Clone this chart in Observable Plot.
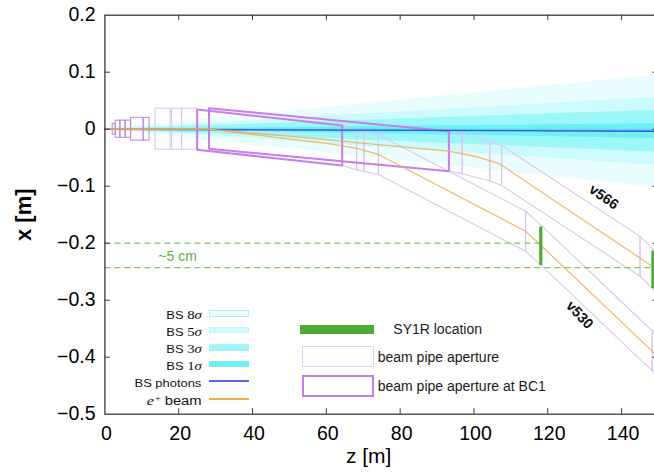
<!DOCTYPE html>
<html>
<head>
<meta charset="utf-8">
<script src="https://cdn.jsdelivr.net/npm/d3@7"></script>
<script src="https://cdn.jsdelivr.net/npm/@observablehq/plot@0.6"></script>
<style>
  html, body { margin: 0; padding: 0; background: #fff; overflow: hidden; }
  #wrap { position: relative; width: 654px; height: 474px; overflow: hidden; }
  #wrap svg { position: absolute; left: 0; top: 0; max-width: none !important; }
  .leg { position: absolute; white-space: nowrap; line-height: 1; color: #111; }
  .sans { font-family: "Liberation Sans", Arial, sans-serif; }
  .tex { font-family: "Liberation Serif", "Times New Roman", serif; }
  .bsrow { transform: scaleX(1.23); transform-origin: right center; text-align: right; }
  .bsrow .sans { font-size: 10.5px; }
  .bsrow .tex { font-size: 12px; }
  .bsrow .big { font-size: 12px; margin-left: 3px; }
  .bsrow sup { font-size: 8.5px; vertical-align: 4px; margin-left: 1px; }
  .sw { position: absolute; box-sizing: border-box; }
  .rtext { font-family: "Liberation Sans", Arial, sans-serif; font-size: 14px; color: #1a1a1a; }
</style>
</head>
<body>
<div id="wrap"></div>
<script>
// ---- axes ----
const zTicks = [0, 20, 40, 60, 80, 100, 120, 140];
const xTicks = [-0.5, -0.4, -0.3, -0.2, -0.1, 0, 0.1, 0.2];

// ---- beamstrahlung photon fan (half-width of each band at z = 150 m) ----
const sigmaN = [8, 5, 3, 1];
const sigmaHalfEnd = [0.099, 0.060, 0.037, 0.013];
const sigmaFill = ["#eafdfe", "#cdfafc", "#9cf7f9", "#6ff0f3"];
const bsZ = [0, 150];
const bsX = [0, -0.0035];

// ---- e+ beam orbits ----
const v566Z = [0, 28, 61, 69, 93, 100, 107, 121.7, 145, 150];
const v566X = [0, 0, -0.0186, -0.024, -0.0386, -0.047, -0.061, -0.125, -0.226, -0.248];
const v530Z = [0, 28, 61, 69, 74, 114, 118, 150];
const v530X = [0, 0, -0.0257, -0.0345, -0.044, -0.179, -0.203, -0.400];

// ---- beam pipe apertures near the IP (centred on x = 0) ----
const innerBoxZ0 = [2.1, 2.9, 4.2, 5.6, 7.1, 10.5];
const innerBoxZ1 = [2.9, 4.2, 5.6, 7.1, 10.5, 12.1];
const innerBoxHalf = [0.0095, 0.015, 0.015, 0.015, 0.02, 0.02];
const outerBoxZ0 = [13.7, 18.2, 20.9];
const outerBoxZ1 = [17.8, 20.9, 25.0];
const outerBoxHalf = [0.036, 0.036, 0.036];

// ---- beam pipe aperture at BC1 (v530, v566) ----
const bc1Z0 = [25.0, 28.2];
const bc1Z1 = [64.3, 93.2];
const bc1TopL = [0.0346, 0.0368];
const bc1TopR = [0.0065, -0.0035];
const bc1BotL = [-0.036, -0.0344];
const bc1BotR = [-0.0637, -0.0737];

// ---- downstream apertures following each orbit ----
const apertureHalf = 0.035;
const pipeV530Z = [64.3, 68.2, 70.2, 74.1, 114.0, 118.1, 148.3, 153];
const pipeV530X = [-0.0286, -0.0365, -0.039, -0.0446, -0.179, -0.203, -0.389, -0.42];
const pipeV566Z = [93.2, 96.8, 104.3, 107.5, 145.0, 148.5, 153];
const pipeV566X = [-0.0386, -0.043, -0.056, -0.0637, -0.223, -0.245, -0.267];

// ---- SY1R location and guide lines ----
const sy1rZ = [118.1, 148.5];
const sy1rTop = [-0.172, -0.214];
const sy1rBot = [-0.239, -0.280];
const guideX = [-0.2, -0.243];
const guideEndZ = [118.1, 148.5];
const gapLabel = "~5 cm";
const gapLabelZ = 19.7, gapLabelX = -0.2235;

// ---- lattice version labels ----
const versionNames = ["v566", "v530"];
const versionZ = [135.2, 128.6];
const versionX = [-0.119, -0.326];
const versionAngle = [35, 47];

// ---- legends ----
const bsLegendSigma = [8, 5, 3, 1];
const rightLegendLabels = ["SY1R location", "beam pipe aperture", "beam pipe aperture at BC1"];

// colours
const colBlue = "#3a4de6", colOrange = "#f7a94b", colGreen = "#4bab32", colGuide = "#7dc95e";
const colBC1 = "#c77dee", colPipe = "#dcc6f3", colInner = "#b884e6", colAxis = "#3a3a3a";

// layout
const W = 660, H = 474;
const mL = 104.4, mR = 2, mT = 14.7, mB = 60.3;
const tickLen = 5.5;
const tickLenZ = tickLen * 150 / (W - mL - mR);
const tickLenX = tickLen * 0.7 / (H - mT - mB);
const font = "Liberation Sans, Arial, Helvetica, sans-serif";

function quad(id, z0, z1, tl, tr, br, bl) {
  return [
    {id, z: z0, x: tl}, {id, z: z1, x: tr}, {id, z: z1, x: br},
    {id, z: z0, x: bl}, {id, z: z0, x: tl}
  ];
}
function chain(prefix, zs, xs, h) {
  const pts = [];
  for (let i = 0; i < zs.length - 1; i++) {
    pts.push(...quad(prefix + i, zs[i], zs[i + 1], xs[i] + h, xs[i + 1] + h, xs[i + 1] - h, xs[i] - h));
  }
  return pts;
}
const toPts = (zs, xs) => zs.map((z, i) => ({z, x: xs[i]}));

const marks = [];

// photon fan bands, widest first
sigmaN.forEach((n, i) => {
  const w = sigmaHalfEnd[i];
  marks.push(Plot.areaY(
    [{z: bsZ[0], lo: bsX[0], hi: bsX[0]}, {z: bsZ[1], lo: bsX[1] - w, hi: bsX[1] + w}],
    {x: "z", y1: "lo", y2: "hi", fill: sigmaFill[i]}
  ));
});

// apertures near the IP
marks.push(Plot.rect(innerBoxZ0.map((z0, i) => ({z0, z1: innerBoxZ1[i], h: innerBoxHalf[i]})),
  {x1: "z0", x2: "z1", y1: d => -d.h, y2: d => d.h, fill: "none", stroke: colInner, strokeWidth: 1}));
marks.push(Plot.rect(outerBoxZ0.map((z0, i) => ({z0, z1: outerBoxZ1[i], h: outerBoxHalf[i]})),
  {x1: "z0", x2: "z1", y1: d => -d.h, y2: d => d.h, fill: "none", stroke: colPipe, strokeWidth: 1.1}));

// downstream apertures
marks.push(Plot.line(chain("a", pipeV530Z, pipeV530X, apertureHalf),
  {x: "z", y: "x", z: "id", stroke: colPipe, strokeWidth: 1.1}));
marks.push(Plot.line(chain("b", pipeV566Z, pipeV566X, apertureHalf),
  {x: "z", y: "x", z: "id", stroke: colPipe, strokeWidth: 1.1}));

// BC1 apertures
const bc1Pts = [];
bc1Z0.forEach((z0, i) => bc1Pts.push(...quad("bc1-" + i, z0, bc1Z1[i], bc1TopL[i], bc1TopR[i], bc1BotR[i], bc1BotL[i])));
marks.push(Plot.line(bc1Pts, {x: "z", y: "x", z: "id", stroke: colBC1, strokeWidth: 2}));

// BS photons
marks.push(Plot.line(toPts(bsZ, bsX), {x: "z", y: "x", stroke: colBlue, strokeWidth: 1.4}));
marks.push(Plot.ruleY([0], {x1: bsZ[0], x2: bsZ[1], stroke: "#4fa6d6", strokeWidth: 1.1, strokeDasharray: "1.2,1.8"}));

// e+ beam orbits
marks.push(Plot.line(toPts(v566Z, v566X), {x: "z", y: "x", stroke: colOrange, strokeWidth: 1.3, strokeOpacity: 0.8}));
marks.push(Plot.line(toPts(v530Z, v530X), {x: "z", y: "x", stroke: colOrange, strokeWidth: 1.3, strokeOpacity: 0.8}));

// guide lines and SY1R location
marks.push(Plot.ruleY(guideX.map((x, i) => ({x, end: guideEndZ[i]})),
  {y: "x", x1: 0, x2: "end", stroke: colGuide, strokeWidth: 1.3, strokeDasharray: "6,4"}));
marks.push(Plot.ruleX(sy1rZ.map((z, i) => ({z, t: sy1rTop[i], b: sy1rBot[i]})),
  {x: "z", y1: "b", y2: "t", stroke: colGreen, strokeWidth: 3.2}));
marks.push(Plot.text([gapLabel], {x: gapLabelZ, y: gapLabelX, text: d => d, fill: "#5db33b",
  fontSize: 14, fontFamily: font}));

// version labels
versionNames.forEach((name, i) => {
  marks.push(Plot.text([name], {x: versionZ[i], y: versionX[i], text: d => d, rotate: versionAngle[i],
    fontSize: 14.5, fontWeight: "bold", fontFamily: font, fill: "#111"}));
});

// frame and inward ticks
marks.push(Plot.frame({stroke: colAxis, strokeWidth: 1.3}));
marks.push(Plot.ruleX(zTicks.slice(1), {x: d => d, y1: -0.5, y2: -0.5 + tickLenX, stroke: colAxis}));
marks.push(Plot.ruleX(zTicks.slice(1), {x: d => d, y1: 0.2 - tickLenX, y2: 0.2, stroke: colAxis}));
marks.push(Plot.ruleY(xTicks.slice(1, -1), {y: d => d, x1: 0, x2: tickLenZ, stroke: colAxis}));
marks.push(Plot.ruleY(xTicks.slice(1, -1), {y: d => d, x1: 150 - tickLenZ, x2: 150, stroke: colAxis}));

// tick labels
const fmtX = d3.format("");
marks.push(Plot.text(xTicks, {x: 0, y: d => d, text: d => fmtX(d), textAnchor: "end", dx: -9.4,
  fontSize: 19.5, fontFamily: font, fill: "#000", ariaLabel: "y-tick-label"}));
marks.push(Plot.text(zTicks, {x: d => d, y: -0.5, text: d => String(d), dy: 19.5, dx: 1.5,
  fontSize: 19.5, fontFamily: font, fill: "#000", ariaLabel: "x-tick-label"}));

// axis titles
marks.push(Plot.text(["z [m]"], {frameAnchor: "bottom", text: d => d, textAnchor: "middle", dx: -13, dy: 48.5,
  fontSize: 21, fontFamily: font, fill: "#000", ariaLabel: "x-title"}));
marks.push(Plot.text(["x [m]"], {frameAnchor: "left", text: d => d, textAnchor: "middle", dx: -81, rotate: -90,
  fontSize: 22, fontFamily: font, fill: "#000", fontWeight: "bold", ariaLabel: "y-title"}));

const svg = Plot.plot({
  width: W, height: H,
  marginLeft: mL, marginRight: mR, marginTop: mT, marginBottom: mB,
  x: {domain: [0, 150], axis: null},
  y: {domain: [-0.5, 0.2], axis: null},
  style: {background: "transparent", maxWidth: "none", overflow: "visible"},
  marks
});

// horizontal stretch of axis text
function stretch(label, scale) {
  svg.querySelectorAll(`g[aria-label="${label}"] text`).forEach(t => {
    let tx = 0, ty = 0;
    const xa = t.getAttribute("x"), ya = t.getAttribute("y");
    if (xa != null && !/em$/.test(xa)) { tx = +xa; t.removeAttribute("x"); }
    if (ya != null && !/em$/.test(ya)) { ty = +ya; t.removeAttribute("y"); }
    const tr = t.getAttribute("transform") || "";
    t.setAttribute("transform", `${tr} translate(${tx},${ty}) ${scale}`);
  });
}
stretch("y-tick-label", "scale(1.2,1)");
stretch("x-tick-label", "scale(1.2,1)");
stretch("x-title", "scale(1.2,1)");
stretch("y-title", "scale(1,1.15)");

// italic variable names in axis titles
function italicFirst(label, letter) {
  svg.querySelectorAll(`g[aria-label="${label}"] text`).forEach(t => {
    t.textContent = "";
    const a = document.createElementNS("http://www.w3.org/2000/svg", "tspan");
    a.setAttribute("font-style", "italic"); a.textContent = letter;
    t.appendChild(a); t.appendChild(document.createTextNode(" [m]"));
  });
}
italicFirst("x-title", "z");
italicFirst("y-title", "x");

const wrap = document.getElementById("wrap");
wrap.appendChild(svg);

// ---- left legend: photon bands and beams ----
const rowY = [313.3, 330, 347.5, 364, 381, 398.5];
const labelRight = 201.7, swLeft = 209.3, swW = 40;
const bsSwatch = [
  {fill: "#effefe", border: "#b3eff3"},
  {fill: "#d2fafb", border: "#c6f7f9"},
  {fill: "#a0f5f7", border: "#a0f5f7"},
  {fill: "#72eff2", border: "#72eff2"}
];
const bsRows = bsLegendSigma.map(n => `<span class="sans">BS </span><span class="tex">${n}<i>σ</i></span>`);
bsRows.push(`<span class="sans">BS photons</span>`);
bsRows.push(`<span class="tex" style="font-size:13px"><i>e</i><sup>+</sup></span><span class="sans big">beam</span>`);
bsRows.forEach((html, i) => {
  const d = document.createElement("div");
  d.className = "leg bsrow";
  d.innerHTML = html;
  d.style.right = (654 - labelRight) + "px";
  d.style.top = (rowY[i] - 6.5) + "px";
  d.style.height = "13px";
  d.style.lineHeight = "13px";
  wrap.appendChild(d);
  const s = document.createElement("div");
  s.className = "sw";
  s.style.left = swLeft + "px";
  s.style.width = swW + "px";
  if (i < 4) {
    s.style.top = (rowY[i] - 3.4) + "px";
    s.style.height = "6.8px";
    s.style.background = bsSwatch[i].fill;
    s.style.border = "1px solid " + bsSwatch[i].border;
  } else {
    s.style.top = (rowY[i] - 0.75) + "px";
    s.style.height = (i === 4 ? 1.4 : 1.8) + "px";
    s.style.background = i === 4 ? "#5566ee" : colOrange;
  }
  wrap.appendChild(s);
});

// ---- right legend ----
const rl = [
  {y: 329.3, textLeft: 393.3, sw: {left: 300, top: 324.5, w: 74, h: 9, bg: colGreen, border: "none"}},
  {y: 357.3, textLeft: 377.7, sw: {left: 301.7, top: 346, w: 72.3, h: 20.7, bg: "#fff", border: "1.5px solid #e3cdf5"}},
  {y: 386, textLeft: 377.7, sw: {left: 301.7, top: 375, w: 72.3, h: 21.7, bg: "#fff", border: "2px solid " + colBC1}}
];
rightLegendLabels.forEach((label, i) => {
  const r = rl[i];
  const s = document.createElement("div");
  s.className = "sw";
  Object.assign(s.style, {left: r.sw.left + "px", top: r.sw.top + "px", width: r.sw.w + "px",
    height: r.sw.h + "px", background: r.sw.bg, border: r.sw.border});
  wrap.appendChild(s);
  const t = document.createElement("div");
  t.className = "leg rtext";
  t.textContent = label;
  t.style.left = r.textLeft + "px";
  t.style.top = (r.y - 8) + "px";
  t.style.height = "16px";
  t.style.lineHeight = "16px";
  wrap.appendChild(t);
});
</script>
</body>
</html>
